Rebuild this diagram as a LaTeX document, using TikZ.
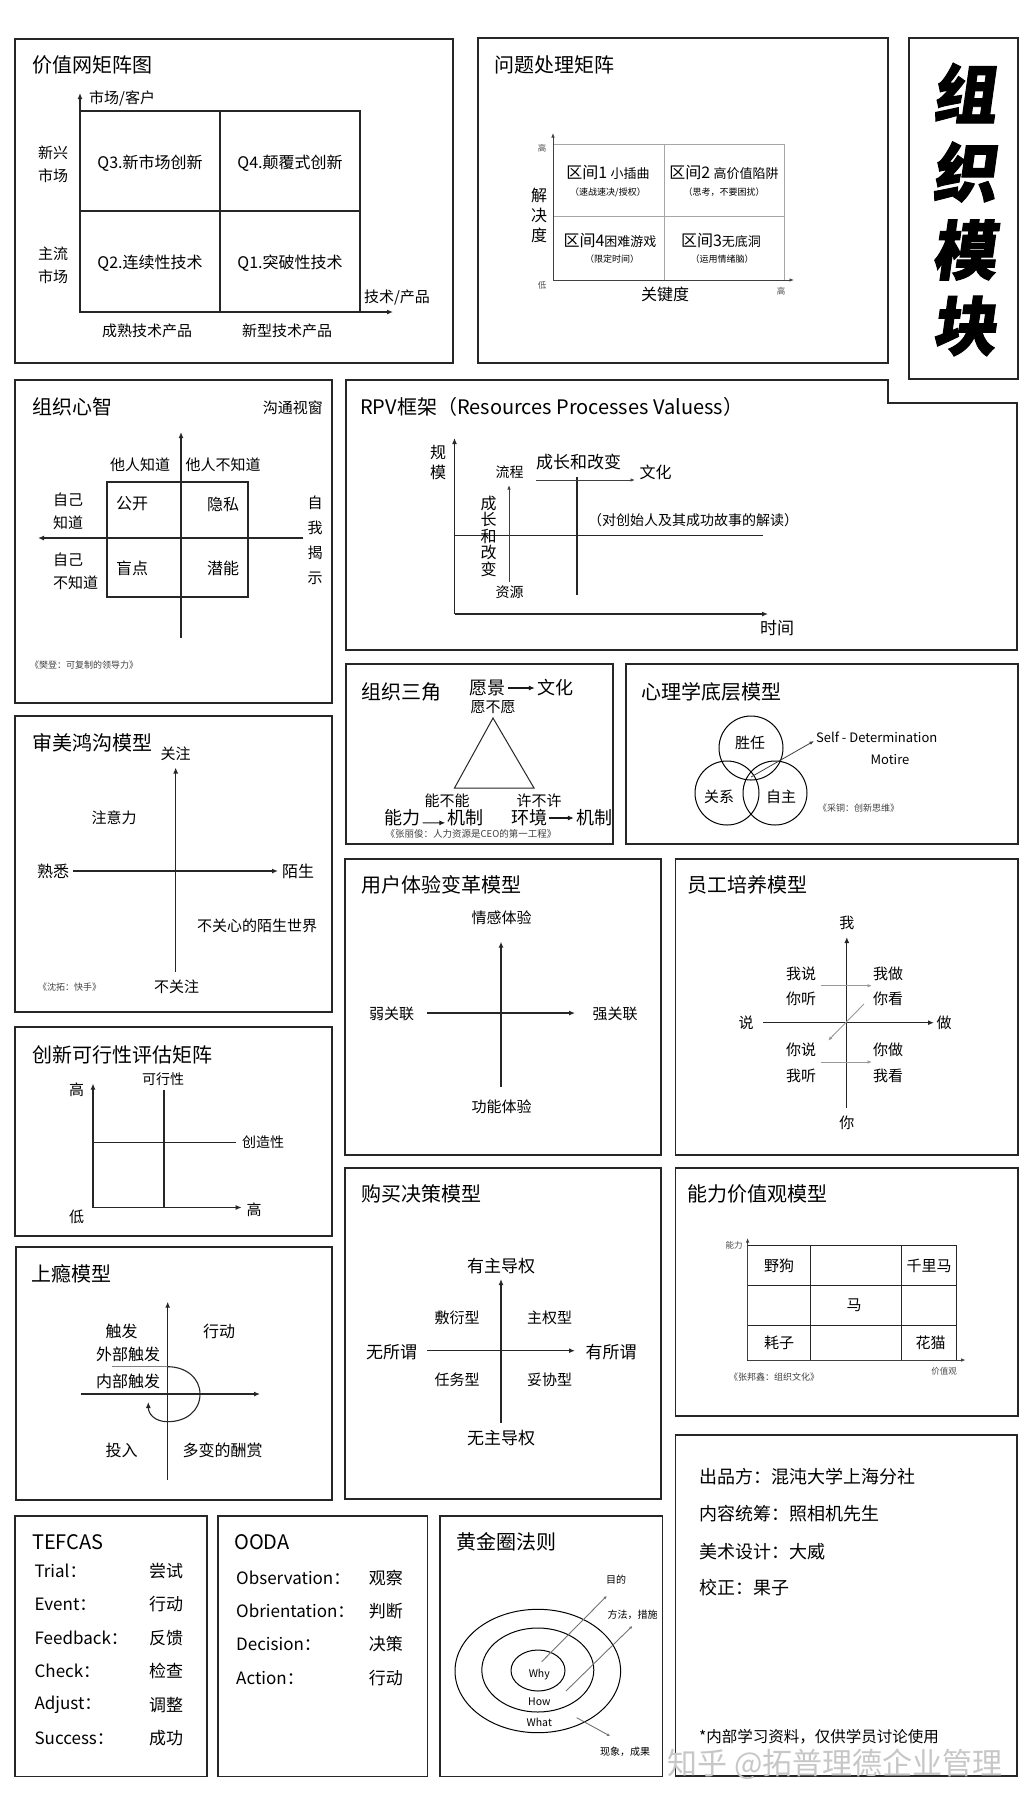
\documentclass[tikz,border=0pt]{standalone}
\usepackage{fontspec}
\setmainfont{Noto Sans CJK SC}
\newfontfamily\headfont{Noto Sans CJK SC}[BoldFeatures={FakeSlant=0.14, FakeBold=1.5}]
\usetikzlibrary{arrows.meta, positioning, calc}

\begin{document}
\begin{tikzpicture}[
    x=1pt, y=-1pt,
    panel/.style={
        draw=black!85,
        line width=1.5pt
    },
    ttl/.style={
        anchor=west,
        inner sep=0pt,
        font=\fontsize{20}{24}\selectfont
    },
    lbl/.style={
        inner sep=0pt,
        font=\fontsize{15}{18}\selectfont
    },
    lblbig/.style={
        inner sep=0pt,
        font=\fontsize{17}{20}\selectfont
    },
    lblsm/.style={
        inner sep=0pt,
        font=\fontsize{13}{16}\selectfont
    },
    cite/.style={
        anchor=west,
        inner sep=0pt,
        text=black!75,
        font=\fontsize{9}{11}\selectfont
    },
    tinylbl/.style={
        inner sep=0pt,
        text=black!70,
        font=\fontsize{8.5}{10}\selectfont
    },
    axis/.style={
        -{Latex[length=6pt,width=5pt]},
        line width=1.2pt,
        draw=black!85
    },
    thinaxis/.style={
        -{Latex[length=4.5pt,width=3.5pt]},
        line width=0.8pt,
        draw=black!75
    },
    textarrow/.style={
        -{Latex[length=6pt,width=5pt]},
        line width=1.1pt,
        draw=black!90
    },
    grayarrow/.style={
        -{Latex[length=4.5pt,width=3.5pt]},
        line width=0.9pt,
        draw=black!40
    },
    boxline/.style={
        line width=1.2pt,
        draw=black!85
    },
    gridline/.style={
        line width=0.8pt,
        draw=black!35
    },
    rowlbl/.style={
        anchor=west,
        inner sep=0pt,
        font=\fontsize{17}{20}\selectfont
    }
]

\path[use as bounding box, fill=white] (0,0) rectangle (1032,1808);

% ------------------------------------------------
% Value network matrix
% ------------------------------------------------
\draw[panel] (15,39) rectangle (453,363);
\node[ttl] (vnTitle) at (32,65) {价值网矩阵图};

\coordinate (vnO) at (80,312);
\coordinate (vnY) at (80,93);
\coordinate (vnX) at (393,312);
\draw[boxline] (80,111) rectangle (360,312);
\draw[boxline] (220,111) -- (220,312);
\draw[boxline] (80,211) -- (360,211);
\draw[axis] (vnO) -- (vnY);
\draw[axis] (vnO) -- (vnX);

\node[lbl, anchor=west] (vnYlbl) at (89,98) {市场/客户};
\node[lbl, align=center, font=\fontsize{15}{23}\selectfont] (vnNew) at (53,164) {新兴\\市场};
\node[lbl, align=center, font=\fontsize{15}{23}\selectfont] (vnMain) at (53,265) {主流\\市场};
\node[lbl, font=\fontsize{16}{19}\selectfont] (vnQ3) at (150,163) {Q3.新市场创新};
\node[lbl, font=\fontsize{16}{19}\selectfont] (vnQ4) at (290,163) {Q4.颠覆式创新};
\node[lbl, font=\fontsize{16}{19}\selectfont] (vnQ2) at (150,263) {Q2.连续性技术};
\node[lbl, font=\fontsize{16}{19}\selectfont] (vnQ1) at (290,263) {Q1.突破性技术};
\node[lbl] (vnXlbl) at (397,298) {技术/产品};
\node[lbl] (vnOld) at (147,331) {成熟技术产品};
\node[lbl] (vnNewT) at (287,331) {新型技术产品};

% ------------------------------------------------
% Problem matrix
% ------------------------------------------------
\draw[panel] (478,38) rectangle (888,363);
\node[ttl] (pmTitle) at (494,65) {问题处理矩阵};

\coordinate (pmO) at (553,280);
\coordinate (pmY) at (553,133);
\coordinate (pmX) at (794,280);
\draw[gridline] (553,144) rectangle (784,280);
\draw[gridline] (664,144) -- (664,280);
\draw[gridline] (553,216) -- (784,216);
\draw[thinaxis] (pmO) -- (pmY);
\draw[thinaxis] (pmO) -- (pmX);

\node[tinylbl] (pmHi) at (542,148) {高};
\node[tinylbl] (pmLo) at (542,285) {低};
\node[tinylbl] (pmHi2) at (781,291) {高};
\node[lbl, align=center, font=\fontsize{16}{20}\selectfont] (pmYlbl) at (539,215) {解\\决\\度};
\node[lbl, font=\fontsize{16}{19}\selectfont] (pmXlbl) at (665,294) {关键度};

\node[lbl, font=\fontsize{16}{19}\selectfont] (pmC1) at (608,173) {区间1 {\fontsize{13}{16}\selectfont 小插曲}};
\node[lbl, font=\fontsize{9}{11}\selectfont] (pmC1s) at (608,192) {（速战速决/授权）};
\node[lbl, font=\fontsize{16}{19}\selectfont] (pmC2) at (724,173) {区间2 {\fontsize{13}{16}\selectfont 高价值陷阱}};
\node[lbl, font=\fontsize{9}{11}\selectfont] (pmC2s) at (724,192) {（思考，不要困扰）};
\node[lbl, font=\fontsize{16}{19}\selectfont] (pmC4) at (610,241) {区间4{\fontsize{13}{16}\selectfont 困难游戏}};
\node[lbl, font=\fontsize{9}{11}\selectfont] (pmC4s) at (612,259) {（限定时间）};
\node[lbl, font=\fontsize{16}{19}\selectfont] (pmC3) at (721,241) {区间3{\fontsize{13}{16}\selectfont 无底洞}};
\node[lbl, font=\fontsize{9}{11}\selectfont] (pmC3s) at (722,259) {（运用情绪脑）};

% ------------------------------------------------
% Big title
% ------------------------------------------------
\draw[panel] (909,38) rectangle (1018,379);
\foreach \ch/\yy [count=\k] in {组/93, 织/172, 模/250, 块/326}{
  \node[inner sep=0pt, font=\headfont\bfseries\fontsize{64}{64}\selectfont] (big\k) at (964,\yy) {\ch};
}

% ------------------------------------------------
% Johari window
% ------------------------------------------------
\draw[panel] (15,380) rectangle (332,703);
\node[ttl] (jwTitle) at (32,407) {组织心智};
\node[lbl, anchor=east] (jwSub) at (323,408) {沟通视窗};

\coordinate (jwYa) at (181,638);
\coordinate (jwYb) at (181,432);
\coordinate (jwXa) at (303,538);
\coordinate (jwXb) at (38,538);
\draw[boxline] (107,482) rectangle (248,597);
\draw[axis] (jwYa) -- (jwYb);
\draw[axis] (jwXa) -- (jwXb);

\node[lbl] (jwOk) at (140,465) {他人知道};
\node[lbl] (jwOn) at (223,465) {他人不知道};
\node[lbl, anchor=west, align=left, font=\fontsize{15}{23}\selectfont] (jwSk) at (53,511) {自己\\知道};
\node[lbl, anchor=west, align=left, font=\fontsize{15}{23}\selectfont] (jwSn) at (53,571) {自己\\不知道};
\node[lbl, font=\fontsize{16}{19}\selectfont] (jwOpen) at (132,504) {公开};
\node[lbl, font=\fontsize{16}{19}\selectfont] (jwHide) at (223,504) {隐私};
\node[lbl, font=\fontsize{16}{19}\selectfont] (jwBlind) at (132,568) {盲点};
\node[lbl, font=\fontsize{16}{19}\selectfont] (jwPot) at (223,568) {潜能};
\node[lbl, align=center, font=\fontsize{15}{25}\selectfont] (jwSelf) at (315,540) {自\\我\\揭\\示};
\node[cite] (jwCite) at (30,665) {《樊登：可复制的领导力》};

% ------------------------------------------------
% RPV framework
% ------------------------------------------------
\draw[panel] (346,380) -- (888,380) -- (888,403) -- (1017,403) -- (1017,650) -- (346,650) -- cycle;
\node[ttl] (rpvTitle) at (360,407) {RPV框架（Resources Processes Valuess）};

\coordinate (rpvO) at (454.5,614);
\coordinate (rpvY) at (454.5,438);
\coordinate (rpvX) at (768,614);
\draw[axis] (rpvO) -- (rpvY);
\draw[axis] (rpvO) -- (rpvX);
\draw[boxline] (454.5,535.7) -- (763,535.7);
\draw[boxline] (577,477) -- (577,595);

\node[lbl, align=center, font=\fontsize{16}{20}\selectfont] (rpvScale) at (438,462) {规\\模};
\node[lbl, font=\fontsize{17}{20}\selectfont] (rpvTime) at (777,628) {时间};
\node[lbl, font=\fontsize{14}{17}\selectfont] (rpvProc) at (509.5,472) {流程};
\node[lbl, font=\fontsize{14}{17}\selectfont] (rpvRes) at (509.5,592) {资源};
\coordinate (rpvUa) at (509,582);
\coordinate (rpvUb) at (509,485);
\draw[thinaxis, line width=1pt] (rpvUa) -- (rpvUb);
\node[lbl, align=center, font=\fontsize{16}{16.5}\selectfont] (rpvGrowV) at (488.5,536) {成\\长\\和\\改\\变};
\node[lbl, font=\fontsize{17}{20}\selectfont] (rpvGrowH) at (578.5,462) {成长和改变};
\coordinate (rpvRa) at (536,480);
\coordinate (rpvRb) at (635,480);
\draw[thinaxis, line width=1pt] (rpvRa) -- (rpvRb);
\node[lbl, font=\fontsize{16}{19}\selectfont] (rpvCult) at (655.5,472) {文化};
\node[lbl, font=\fontsize{14}{17}\selectfont] (rpvNote) at (693,520) {（对创始人及其成功故事的解读）};

% ------------------------------------------------
% Organisation triangle
% ------------------------------------------------
\draw[panel] (346,664) rectangle (613,844);
\node[ttl] (otTitle) at (361,692) {组织三角};

\node[lblbig, font=\fontsize{18}{21}\selectfont, inner sep=2pt] (otVis) at (487.5,688) {愿景};
\node[lblbig, font=\fontsize{18}{21}\selectfont, inner sep=2pt] (otCul) at (555,688) {文化};
\draw[textarrow] (otVis.east) -- (otCul.west);
\node[lbl] (otWill) at (493,707) {愿不愿};
\draw[boxline, line width=1pt] (493,718) -- (454.5,788) -- (534,788) -- cycle;
\node[lbl] (otCan) at (447,801) {能不能};
\node[lbl] (otMay) at (539,801) {许不许};
\node[lblbig, font=\fontsize{18}{21}\selectfont, inner sep=2pt] (otAbi) at (402.5,818) {能力};
\node[lblbig, font=\fontsize{18}{21}\selectfont, inner sep=2pt] (otMech) at (465.5,818) {机制};
\node[lblbig, font=\fontsize{18}{21}\selectfont, inner sep=2pt] (otEnv) at (529,818) {环境};
\node[lblbig, font=\fontsize{18}{21}\selectfont, inner sep=2pt] (otMech2) at (594,818) {机制};
\draw[textarrow] ([yshift=2pt]otAbi.base east) -- ([yshift=2pt]otMech.base west);
\draw[textarrow] (otEnv.east) -- (otMech2.west);
\node[cite, anchor=center, font=\fontsize{9.5}{11}\selectfont] (otCite) at (471,834) {《张丽俊：人力资源是CEO的第一工程》};

% ------------------------------------------------
% Psychology base model
% ------------------------------------------------
\draw[panel] (626,664) rectangle (1018,844);
\node[ttl] (psTitle) at (641.5,692) {心理学底层模型};

\draw[line width=1pt] (751,748) circle [radius=32];
\draw[line width=1pt] (727,793) circle [radius=32];
\draw[line width=1pt] (775,793) circle [radius=32];
\node[lbl] (psComp) at (750,743) {胜任};
\node[lbl] (psRel) at (719,797) {关系};
\node[lbl] (psAuto) at (781,797) {自主};
\coordinate (psA) at (751,777);
\coordinate (psB) at (814,741);
\draw[thinaxis] (psA) -- (psB);
\node[lblsm, anchor=west] (psSdt) at (816,737) {Self - Determination};
\node[lblsm] (psMot) at (890,760) {Motire};
\node[cite] (psCite) at (818,808) {《采铜：创新思维》};

% ------------------------------------------------
% Aesthetic gap
% ------------------------------------------------
\draw[panel] (15,716) rectangle (332,1012);
\node[ttl] (agTitle) at (32,743) {审美鸿沟模型};

\coordinate (agYa) at (175.7,972);
\coordinate (agYb) at (175.7,767.5);
\coordinate (agXa) at (72.7,871);
\coordinate (agXb) at (278,871);
\draw[axis] (agYa) -- (agYb);
\draw[axis] (agXa) -- (agXb);
\node[lbl] (agAtt) at (175.7,754) {关注};
\node[lbl] (agNoAtt) at (176.7,987) {不关注};
\node[lbl, font=\fontsize{16}{19}\selectfont] (agFam) at (53,871) {熟悉};
\node[lbl, font=\fontsize{16}{19}\selectfont] (agStr) at (298,871) {陌生};
\node[lbl] (agFocus) at (114,817.5) {注意力};
\node[lbl] (agWorld) at (257,926) {不关心的陌生世界};
\node[cite] (agCite) at (38,987) {《沈拓：快手》};

% ------------------------------------------------
% Innovation feasibility
% ------------------------------------------------
\draw[panel] (15,1027) rectangle (332,1236);
\node[ttl] (ifTitle) at (32.7,1055) {创新可行性评估矩阵};

\coordinate (ifO) at (93,1207.5);
\coordinate (ifY) at (93,1083.5);
\coordinate (ifX) at (241.7,1207.5);
\draw[axis] (ifO) -- (ifY);
\draw[axis] (ifO) -- (ifX);
\draw[boxline] (164,1090) -- (164,1207.5);
\draw[boxline] (93,1142.6) -- (236,1142.6);
\node[lbl] (ifHi) at (76.7,1090) {高};
\node[lbl] (ifLo) at (76.7,1217) {低};
\node[lbl] (ifHi2) at (254,1209.6) {高};
\node[lbl, font=\fontsize{14}{17}\selectfont] (ifFeas) at (163,1079.5) {可行性};
\node[lbl, font=\fontsize{14}{17}\selectfont] (ifCrea) at (263,1142.6) {创造性};

% ------------------------------------------------
% User experience
% ------------------------------------------------
\draw[panel] (345,859) rectangle (661,1155);
\node[ttl] (uxTitle) at (361,885) {用户体验变革模型};

\coordinate (uxYa) at (501,1087);
\coordinate (uxYb) at (501,941.7);
\coordinate (uxXa) at (427,1013);
\coordinate (uxXb) at (575,1013);
\draw[axis] (uxYa) -- (uxYb);
\draw[axis] (uxXa) -- (uxXb);
\node[lbl] (uxEmo) at (501.7,917.7) {情感体验};
\node[lbl] (uxFun) at (501.7,1106.7) {功能体验};
\node[lbl] (uxWeak) at (391.5,1014) {弱关联};
\node[lbl] (uxStrong) at (615,1014) {强关联};

% ------------------------------------------------
% Staff training
% ------------------------------------------------
\draw[panel] (675.5,859) rectangle (1018,1155);
\node[ttl] (stTitle) at (687,885) {员工培养模型};

\coordinate (stYa) at (846.8,1108);
\coordinate (stYb) at (846.8,937);
\coordinate (stXa) at (763,1022.7);
\coordinate (stXb) at (934,1022.7);
\draw[axis] (stYa) -- (stYb);
\draw[axis] (stXa) -- (stXb);
\node[lbl] (stMe) at (846.8,922.7) {我};
\node[lbl] (stYou) at (846.8,1123) {你};
\node[lbl] (stSay) at (746,1022.7) {说};
\node[lbl] (stDo) at (944,1022.7) {做};
\node[lbl] (stA1) at (801,974) {我说};
\node[lbl] (stA2) at (801,999) {你听};
\node[lbl] (stB1) at (888,974) {我做};
\node[lbl] (stB2) at (888,999) {你看};
\node[lbl] (stC1) at (801,1050) {你说};
\node[lbl] (stC2) at (801,1075.7) {我听};
\node[lbl] (stD1) at (888,1050) {你做};
\node[lbl] (stD2) at (888,1075.7) {我看};
\coordinate (stP1) at (820.6,985.7);
\coordinate (stP2) at (872,985.7);
\coordinate (stP3) at (864,1004);
\coordinate (stP4) at (828,1040.7);
\coordinate (stP5) at (820.6,1062);
\coordinate (stP6) at (872,1062);
\draw[grayarrow] (stP1) -- (stP2);
\draw[grayarrow] (stP3) -- (stP4);
\draw[grayarrow] (stP5) -- (stP6);

% ------------------------------------------------
% Purchase decision
% ------------------------------------------------
\draw[panel] (345,1168) rectangle (661,1499);
\node[ttl] (pdTitle) at (361,1194) {购买决策模型};

\coordinate (pdYa) at (501,1423);
\coordinate (pdYb) at (501,1279);
\coordinate (pdXa) at (427,1350.7);
\coordinate (pdXb) at (575,1350.7);
\draw[axis] (pdYa) -- (pdYb);
\draw[axis] (pdXa) -- (pdXb);
\node[lblbig] (pdLead) at (501,1266) {有主导权};
\node[lblbig] (pdNoLead) at (501,1438) {无主导权};
\node[lblbig] (pdNone) at (391.5,1351.7) {无所谓};
\node[lblbig] (pdCare) at (611,1351.7) {有所谓};
\node[lbl] (pdQ1) at (457,1318) {敷衍型};
\node[lbl] (pdQ2) at (549.7,1318) {主权型};
\node[lbl] (pdQ3) at (457,1380) {任务型};
\node[lbl] (pdQ4) at (549.7,1380) {妥协型};

% ------------------------------------------------
% Ability / values
% ------------------------------------------------
\draw[panel] (675.5,1168) rectangle (1018,1416);
\node[ttl] (avTitle) at (687,1194) {能力价值观模型};

\coordinate (avO) at (747.6,1360);
\coordinate (avY) at (747.6,1238);
\coordinate (avX) at (965.6,1360);
\draw[boxline, line width=1pt] (747.6,1245) rectangle (956,1360);
\draw[boxline, line width=1pt] (810.5,1245) -- (810.5,1360);
\draw[boxline, line width=1pt] (901,1245) -- (901,1360);
\draw[boxline, line width=1pt] (747.6,1285) -- (956,1285);
\draw[boxline, line width=1pt] (747.6,1325.7) -- (956,1325.7);
\draw[thinaxis] (avO) -- (avY);
\draw[thinaxis] (avO) -- (avX);
\node[tinylbl] (avAbi) at (734,1245) {能力};
\node[tinylbl] (avVal) at (944,1371) {价值观};
\node[lbl] (avDog) at (779,1266) {野狗};
\node[lbl] (avSteed) at (929,1266) {千里马};
\node[lbl] (avHorse) at (854,1305) {马};
\node[lbl] (avRat) at (779,1342.7) {耗子};
\node[lbl] (avCat) at (930.7,1342.7) {花猫};
\node[cite] (avCite) at (729,1377) {《张邦鑫：组织文化》};

% ------------------------------------------------
% Credits
% ------------------------------------------------
\draw[panel, line width=1.2pt] (675.7,1435) rectangle (1017,1776);
\foreach \txt/\yy [count=\k] in {出品方：混沌大学上海分社/1477, 内容统筹：照相机先生/1514, 美术设计：大威/1551.7, 校正：果子/1588}{
  \node[anchor=west, inner sep=0pt, font=\fontsize{18}{21}\selectfont] (cr\k) at (699,\yy) {\txt};
}
\node[anchor=west, inner sep=0pt, font=\fontsize{15.5}{18}\selectfont] (crNote) at (699,1737) {*内部学习资料，仅供学员讨论使用};

% ------------------------------------------------
% Hooked model
% ------------------------------------------------
\draw[panel] (16,1247) rectangle (332,1500);
\node[ttl] (hkTitle) at (31.7,1274) {上瘾模型};

\coordinate (hkYa) at (167.7,1480);
\coordinate (hkYb) at (167.7,1301.7);
\coordinate (hkXa) at (80.7,1394);
\coordinate (hkXb) at (260,1394);
\draw[axis] (hkYa) -- (hkYb);
\draw[axis] (hkXa) -- (hkXb);
\coordinate (hkS) at (111.7,1366.7);
\coordinate (hkT) at (167.7,1366.7);
\coordinate (hkE) at (148.3,1402);
\draw[line width=1pt, draw=black!50] (hkS) -- (hkT);
\draw[-{Latex[length=6pt,width=5pt]}, line width=1.1pt, draw=black!85]
  (hkT) .. controls (186,1366.7) and (200,1378) .. (200,1394)
        .. controls (200,1411) and (186,1421.7) .. (167.7,1421.7)
        .. controls (155,1421.7) and (148.3,1414) .. (hkE);
\node[lbl, font=\fontsize{16}{19}\selectfont] (hkTrig) at (121.7,1331) {触发};
\node[lbl, font=\fontsize{16}{19}\selectfont] (hkAct) at (219,1331) {行动};
\node[lbl, font=\fontsize{16}{19}\selectfont] (hkExt) at (128,1354) {外部触发};
\node[lbl, font=\fontsize{16}{19}\selectfont] (hkInt) at (128,1381.7) {内部触发};
\node[lbl, font=\fontsize{16}{19}\selectfont] (hkInv) at (121.7,1450.7) {投入};
\node[lbl, font=\fontsize{16}{19}\selectfont] (hkRew) at (222.7,1450.7) {多变的酬赏};

% ------------------------------------------------
% TEFCAS
% ------------------------------------------------
\draw[panel] (15,1516) rectangle (207,1776.7);
\node[ttl] (tfTitle) at (32,1541.7) {TEFCAS};
\foreach \en/\zh/\yy [count=\k] in {Trial/尝试/1570.7, Event/行动/1604.3, Feedback/反馈/1637.7, Check/检查/1671, Adjust/调整/1705, Success/成功/1738.3}{
  \node[rowlbl] (tfE\k) at (34.4,\yy) {\en：};
  \node[rowlbl] (tfZ\k) at (149,\yy) {\zh};
}

% ------------------------------------------------
% OODA
% ------------------------------------------------
\draw[panel] (218,1516) rectangle (427.5,1776.7);
\node[ttl] (odTitle) at (234,1541.7) {OODA};
\foreach \en/\zh/\yy [count=\k] in {Observation/观察/1577.7, Obrientation/判断/1611, Decision/决策/1644.3, Action/行动/1677.7}{
  \node[rowlbl] (odE\k) at (236,\yy) {\en：};
  \node[rowlbl] (odZ\k) at (368.6,\yy) {\zh};
}

% ------------------------------------------------
% Golden circle
% ------------------------------------------------
\draw[panel] (440,1516) rectangle (662.5,1776.7);
\node[ttl] (gcTitle) at (456.7,1541.7) {黄金圈法则};

\draw[line width=1pt] (537.8,1671) ellipse [x radius=82.8, y radius=61.7];
\draw[line width=1pt] (537.8,1670) ellipse [x radius=56, y radius=42];
\draw[line width=1pt] (538,1670.5) ellipse [x radius=27, y radius=20.5];
\node[lbl, font=\fontsize{10.5}{12}\selectfont] (gcWhy) at (539.3,1674.3) {Why};
\node[lbl, font=\fontsize{10.5}{12}\selectfont] (gcHow) at (539.3,1701.7) {How};
\node[lbl, font=\fontsize{10.5}{12}\selectfont] (gcWhat) at (539.3,1722.7) {What};
\coordinate (gcA1) at (541.7,1661.7);
\coordinate (gcA2) at (606.7,1596);
\coordinate (gcB1) at (566,1691);
\coordinate (gcB2) at (632.3,1626);
\coordinate (gcC1) at (576.7,1717.7);
\coordinate (gcC2) at (610,1736);
\draw[grayarrow, -{Latex[length=3pt,width=3pt]}, draw=black!55] (gcA1) -- (gcA2);
\draw[grayarrow, -{Latex[length=3pt,width=3pt]}, draw=black!55] (gcB1) -- (gcB2);
\draw[grayarrow, -{Latex[length=3pt,width=3pt]}, draw=black!55] (gcC1) -- (gcC2);
\node[lbl, font=\fontsize{10}{12}\selectfont] (gcPurp) at (616,1580) {目的};
\node[lbl, font=\fontsize{10}{12}\selectfont] (gcMeth) at (632.7,1614.3) {方法，措施};
\node[lbl, font=\fontsize{10}{12}\selectfont] (gcRes) at (625,1751.7) {现象，成果};

% ------------------------------------------------
% Watermark
% ------------------------------------------------
\node[inner sep=0pt, text=black!22, font=\fontsize{30}{32}\selectfont] (wm) at (835,1764) {知乎 @拓普理德企业管理};

\end{tikzpicture}
\end{document}
